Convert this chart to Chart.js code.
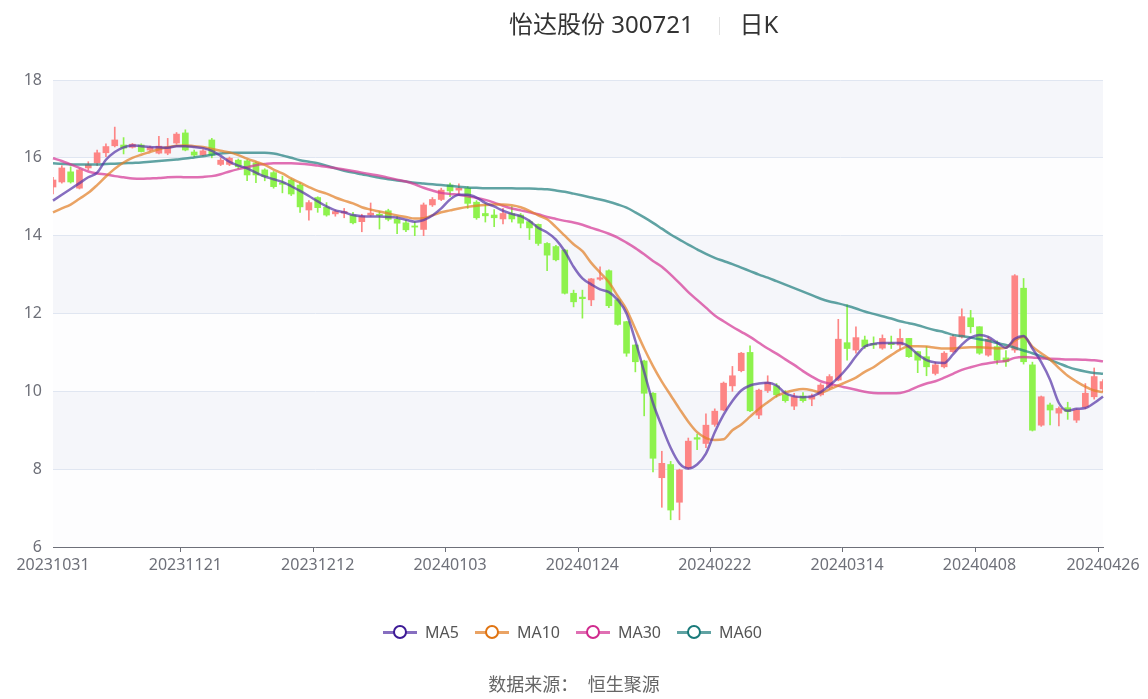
<!DOCTYPE html>
<html>
<head>
<meta charset="utf-8">
<script src="https://cdn.jsdelivr.net/npm/chart.js@4.4.1/dist/chart.umd.min.js"></script>
<style>
  body { margin: 0; background: #fff; }
  #wrap { position: relative; width: 1148px; height: 699px; font-family: "Noto Sans", "Noto Sans CJK SC", sans-serif; }
  #kChart { position: absolute; left: 0; top: 0; }
  .title { position: absolute; top: 5px; left: 509px; white-space: nowrap; font-size: 24px; color: #333; }
  .title .sep { display: inline-block; width: 1px; height: 18px; background: #e3e3e3; margin: 0 20px 0 25px; vertical-align: -2px; }
  .legend { position: absolute; top: 620px; left: 383px; display: flex; font-size: 16px; color: #555; }
  .legend .item { display: flex; align-items: center; margin-right: 16px; }
  .legend .icon { position: relative; width: 34px; height: 24px; margin-right: 8px; }
  .legend .icon .ln { position: absolute; left: 0; top: 11px; width: 34px; height: 2.5px; }
  .legend .icon .dot { position: absolute; left: 10px; top: 5px; width: 10px; height: 10px; border-radius: 50%; background: #fff; border: 2.5px solid; }
  .source { position: absolute; top: 670px; left: 0; width: 1148px; text-align: center; font-size: 18px; color: #666; }
</style>
</head>
<body>
<div id="wrap">
  <canvas id="kChart" width="1148" height="699"></canvas>
  <div class="title">怡达股份 300721<span class="sep"></span>日K</div>
  <div class="legend" id="legend"></div>
  <div class="source">数据来源：&nbsp;&nbsp;恒生聚源</div>
</div>
<script>
// trading days
var dates = [
  '20231031',
  '20231101','20231102','20231103','20231106','20231107','20231108','20231109','20231110','20231113','20231114','20231115',
  '20231116','20231117','20231120','20231121','20231122','20231123','20231124','20231127','20231128','20231129','20231130',
  '20231201','20231204','20231205','20231206','20231207','20231208','20231211','20231212','20231213','20231214','20231215',
  '20231218','20231219','20231220','20231221','20231222','20231225','20231226','20231227','20231228','20231229',
  '20240102','20240103','20240104','20240105','20240108','20240109','20240110','20240111','20240112','20240115','20240116',
  '20240117','20240118','20240119','20240122','20240123','20240124','20240125','20240126','20240129','20240130','20240131',
  '20240201','20240202','20240205','20240206','20240207','20240208','20240219','20240220','20240221','20240222','20240223',
  '20240226','20240227','20240228','20240229','20240301','20240304','20240305','20240306','20240307','20240308','20240311',
  '20240312','20240313','20240314','20240315','20240318','20240319','20240320','20240321','20240322','20240325','20240326',
  '20240327','20240328','20240329','20240401','20240402','20240403','20240408','20240409','20240410','20240411','20240412',
  '20240415','20240416','20240417','20240418','20240419','20240422','20240423','20240424','20240425','20240426'
];
var shownTicks = ['20231031','20231121','20231212','20240103','20240124','20240222','20240314','20240408','20240426'];

var openV = [15.25,15.38,15.64,15.22,15.74,15.87,16.13,16.31,16.33,16.27,16.33,16.2,16.12,16.12,16.38,16.64,16.15,16.07,16.46,15.83,
  15.83,15.94,15.92,15.87,15.69,15.62,15.36,15.43,15.3,14.66,14.98,14.73,14.56,14.58,14.53,14.36,14.53,14.55,14.64,14.42,
  14.33,14.25,14.16,14.79,14.93,15.3,15.17,15.22,14.86,14.57,14.53,14.43,14.57,14.53,14.36,14.29,13.8,13.72,13.63,12.52,
  12.42,12.35,12.88,13.1,12.35,11.79,11.19,10.78,9.95,7.78,8.12,7.15,8.04,8.81,8.66,9.15,9.52,10.14,10.53,11.0,
  9.39,10.02,10.14,9.91,9.62,9.88,9.8,9.91,10.1,10.29,11.25,11.06,11.32,11.23,11.11,11.24,11.19,11.36,11.02,10.89,
  10.46,10.63,11.02,11.4,11.89,11.66,10.93,11.15,10.86,11.06,12.65,10.68,9.13,9.65,9.44,9.58,9.26,9.6,9.86,10.06];
var closeV = [15.43,15.74,15.38,15.69,15.82,16.13,16.29,16.46,16.25,16.35,16.16,16.27,16.3,16.28,16.61,16.2,16.07,16.18,16.07,15.94,
  15.99,15.77,15.56,15.56,15.52,15.26,15.32,15.07,14.74,14.85,14.72,14.53,14.62,14.62,14.33,14.5,14.58,14.52,14.42,14.32,
  14.15,14.22,14.79,14.93,15.17,15.15,15.22,14.83,14.46,14.51,14.46,14.57,14.43,14.32,14.2,13.8,13.5,13.38,12.52,12.3,
  12.38,12.89,12.92,12.2,11.72,10.98,10.76,9.95,8.28,8.15,6.95,7.98,8.72,8.77,9.13,9.49,10.21,10.4,10.98,9.5,
  10.03,10.23,9.91,9.76,9.86,9.76,9.88,10.16,10.38,11.34,11.1,11.38,11.15,11.19,11.36,11.2,11.36,10.89,10.8,10.63,
  10.68,10.98,11.4,11.92,11.66,10.98,11.34,10.8,10.76,12.97,10.76,9.0,9.86,9.52,9.56,9.48,9.52,9.95,10.38,10.25];
var lowV = [15.07,15.35,15.35,15.2,15.69,15.8,16.03,16.28,16.1,16.25,16.15,16.17,16.1,16.08,16.35,16.18,16.03,16.05,16.0,15.8,
  15.8,15.72,15.41,15.36,15.41,15.22,15.1,15.03,14.6,14.4,14.6,14.5,14.5,14.46,14.3,14.1,14.5,14.17,14.38,14.05,
  14.1,14.0,14.0,14.75,14.9,15.0,15.07,14.7,14.42,14.35,14.23,14.3,14.35,14.2,13.9,13.75,13.1,13.35,12.5,12.17,
  11.88,12.2,12.85,12.15,11.7,10.9,10.5,9.37,7.93,7.02,6.7,6.7,8.0,8.5,8.55,9.1,9.5,10.0,10.5,9.48,
  9.3,9.97,9.85,9.72,9.53,9.72,9.63,9.88,10.05,10.27,10.8,10.98,11.1,11.1,11.08,11.1,11.08,10.87,10.48,10.4,
  10.42,10.6,11.0,11.37,11.5,10.95,10.9,10.7,10.64,11.0,10.7,8.98,9.1,9.14,9.11,9.28,9.2,9.55,9.8,10.0];
var highV = [15.5,15.8,15.77,15.72,15.9,16.2,16.36,16.79,16.52,16.37,16.36,16.3,16.55,16.5,16.65,16.72,16.2,16.21,16.5,16.0,
  16.02,15.97,15.95,15.9,15.72,15.65,15.53,15.46,15.36,14.9,15.0,14.85,14.66,14.7,14.6,14.55,14.84,14.62,14.68,14.5,
  14.4,14.36,14.84,14.98,15.22,15.35,15.33,15.26,14.9,14.83,14.67,14.7,14.75,14.57,14.4,14.3,13.82,13.75,13.65,12.6,
  12.6,12.9,13.2,13.12,12.38,11.8,11.2,10.8,9.97,8.46,8.2,8.0,8.8,8.9,9.42,9.55,10.24,10.64,11.0,11.17,
  10.06,10.4,10.2,10.02,9.95,9.97,9.93,10.2,10.43,11.85,12.22,11.66,11.42,11.4,11.45,11.42,11.6,11.36,11.03,11.15,
  10.75,11.02,11.45,12.12,12.08,11.66,11.4,11.3,11.05,13.0,12.9,10.75,9.88,9.7,9.6,9.72,9.55,10.2,10.6,10.3];

var ma5 = [14.9,15.05,15.2,15.35,15.5,15.62,15.95,16.15,16.27,16.32,16.3,16.28,16.27,16.26,16.3,16.3,16.28,16.25,16.18,16.05,
  15.9,15.8,15.73,15.62,15.52,15.45,15.38,15.27,15.15,15.02,14.88,14.75,14.65,14.6,14.53,14.5,14.49,14.49,14.48,14.46,
  14.41,14.36,14.4,14.52,14.7,14.93,15.05,15.05,14.98,14.84,14.75,14.64,14.56,14.5,14.38,14.2,14.08,13.9,13.6,13.2,
  12.9,12.75,12.62,12.55,12.35,12.0,11.3,10.5,9.7,9.1,8.55,8.15,8.02,8.12,8.4,8.95,9.4,9.75,10.02,10.15,
  10.2,10.22,10.15,9.95,9.87,9.85,9.87,9.98,10.15,10.35,10.6,10.9,11.15,11.22,11.24,11.24,11.24,11.15,10.95,10.8,
  10.74,10.73,10.95,11.2,11.38,11.45,11.4,11.25,11.12,11.35,11.42,11.1,10.75,10.3,9.7,9.5,9.55,9.57,9.7,9.87];
var ma10 = [14.6,14.7,14.8,14.95,15.1,15.3,15.52,15.72,15.88,16.0,16.08,16.15,16.22,16.27,16.31,16.32,16.3,16.28,16.23,16.18,
  16.14,16.07,15.98,15.9,15.82,15.7,15.6,15.47,15.36,15.25,15.15,15.08,14.98,14.9,14.83,14.73,14.67,14.62,14.57,14.52,
  14.48,14.44,14.45,14.52,14.6,14.65,14.7,14.74,14.77,14.79,14.8,14.8,14.78,14.73,14.64,14.52,14.42,14.22,14.0,13.78,
  13.6,13.3,13.05,12.8,12.45,12.1,11.6,11.1,10.65,10.25,9.9,9.55,9.22,8.95,8.8,8.75,8.77,9.0,9.15,9.35,
  9.55,9.72,9.88,9.97,10.03,10.06,10.03,9.97,10.05,10.15,10.25,10.35,10.5,10.62,10.78,10.93,11.07,11.16,11.16,11.15,
  11.12,11.1,11.1,11.12,11.13,11.13,11.12,11.1,11.12,11.3,11.4,11.15,10.98,10.82,10.6,10.4,10.25,10.12,10.02,9.98];
var ma30 = [15.99,15.92,15.83,15.74,15.65,15.6,15.57,15.53,15.5,15.47,15.46,15.47,15.48,15.5,15.51,15.5,15.5,15.51,15.53,15.58,
  15.65,15.71,15.76,15.81,15.84,15.86,15.86,15.86,15.85,15.83,15.8,15.77,15.74,15.7,15.66,15.62,15.58,15.54,15.49,15.44,
  15.39,15.32,15.23,15.16,15.1,15.07,15.05,15.01,14.97,14.92,14.85,14.77,14.7,14.65,14.6,14.55,14.48,14.43,14.38,14.34,
  14.28,14.2,14.13,14.05,13.95,13.82,13.68,13.52,13.35,13.2,13.0,12.78,12.55,12.35,12.15,11.95,11.8,11.66,11.53,11.4,
  11.25,11.1,10.97,10.82,10.68,10.52,10.38,10.26,10.2,10.14,10.09,10.04,9.99,9.96,9.95,9.95,9.96,10.02,10.12,10.2,
  10.26,10.35,10.45,10.55,10.62,10.68,10.72,10.76,10.78,10.86,10.88,10.87,10.85,10.84,10.83,10.82,10.82,10.81,10.8,10.77];
var ma60 = [15.86,15.85,15.83,15.83,15.83,15.83,15.84,15.85,15.86,15.87,15.88,15.9,15.92,15.94,15.96,15.98,16.01,16.04,16.08,16.11,
  16.13,16.13,16.13,16.13,16.13,16.11,16.06,16.0,15.94,15.9,15.86,15.8,15.73,15.67,15.62,15.58,15.53,15.49,15.45,15.42,
  15.39,15.36,15.34,15.32,15.3,15.28,15.26,15.24,15.23,15.22,15.22,15.22,15.22,15.21,15.21,15.2,15.19,15.16,15.13,15.08,
  15.03,14.98,14.93,14.87,14.8,14.72,14.6,14.47,14.33,14.18,14.03,13.9,13.77,13.65,13.53,13.43,13.35,13.27,13.18,13.09,
  13.0,12.92,12.83,12.74,12.65,12.56,12.47,12.38,12.31,12.26,12.2,12.13,12.05,11.99,11.93,11.87,11.8,11.75,11.7,11.63,
  11.57,11.52,11.45,11.42,11.38,11.34,11.3,11.24,11.19,11.12,11.05,10.98,10.9,10.81,10.72,10.63,10.56,10.51,10.47,10.45];

var upColor = '#fd8585';
var downColor = '#8ef24d';

var candleColors = closeV.map(function (c, i) { return c >= openV[i] ? upColor : downColor; });
var bodies = openV.map(function (o, i) { return [o, closeV[i]]; });
var wicks = lowV.map(function (l, i) { return [l, highV[i]]; });

var maSeries = [
  { label: 'MA5',  data: ma5,  line: 'rgba(88,54,168,0.72)',  dot: '#3d1a96' },
  { label: 'MA10', data: ma10, line: 'rgba(226,128,40,0.72)', dot: '#e07412' },
  { label: 'MA30', data: ma30, line: 'rgba(212,56,150,0.72)', dot: '#d02a8e' },
  { label: 'MA60', data: ma60, line: 'rgba(34,128,128,0.72)', dot: '#197a7a' }
];

// alternating background bands like the original
var bandPlugin = {
  id: 'bands',
  beforeDraw: function (chart) {
    var a = chart.chartArea, y = chart.scales.y, ctx = chart.ctx;
    var band = 0;
    for (var v = 18; v > 6; v -= 2) {
      var top = y.getPixelForValue(v), bot = y.getPixelForValue(v - 2);
      ctx.fillStyle = (band % 2 === 0) ? '#f5f6fa' : '#fdfdfe';
      ctx.fillRect(a.left, top, a.right - a.left, bot - top);
      band++;
    }
  }
};

var datasets = maSeries.map(function (m) {
  return {
    type: 'line', label: m.label, data: m.data,
    borderColor: m.line, borderWidth: 2.5, pointRadius: 0,
    cubicInterpolationMode: 'monotone', order: 0
  };
});
datasets.push({
  type: 'bar', label: 'body', data: bodies,
  backgroundColor: candleColors, barThickness: 6, minBarLength: 1, grouped: false, order: 1
});
datasets.push({
  type: 'bar', label: 'wick', data: wicks,
  backgroundColor: candleColors, barThickness: 1, grouped: false, order: 2
});

var ctx = document.getElementById('kChart').getContext('2d');
var kChart = new Chart(ctx, {
  data: { labels: dates, datasets: datasets },
  plugins: [bandPlugin],
  options: {
    responsive: false,
    animation: false,
    layout: { padding: { left: 0, top: 80, right: 45, bottom: 112 } },
    plugins: { legend: { display: false }, tooltip: { enabled: false } },
    scales: {
      x: {
        type: 'category',
        offset: false,
        afterFit: function (s) { s.height = 40; },
        border: { color: '#6e7079', width: 1 },
        grid: {
          drawOnChartArea: false, drawTicks: true, tickLength: 5,
          tickColor: function (c) { return shownTicks.indexOf(dates[c.index]) >= 0 ? '#6e7079' : 'rgba(0,0,0,0)'; }
        },
        ticks: {
          autoSkip: false, maxRotation: 0, minRotation: 0, padding: 4,
          color: '#6e7079', font: { family: 'Noto Sans', size: 16 },
          callback: function (v, i) { return shownTicks.indexOf(dates[i]) >= 0 ? dates[i] : ''; }
        }
      },
      y: {
        min: 6, max: 18,
        afterFit: function (s) { s.width = 53; },
        border: { display: false },
        grid: { color: '#e0e6f1', drawTicks: false },
        ticks: { stepSize: 2, padding: 11, color: '#6e7079', font: { family: 'Noto Sans', size: 16 } }
      }
    }
  }
});

// legend built from the MA list
var lg = document.getElementById('legend');
maSeries.forEach(function (m) {
  var it = document.createElement('div');
  it.className = 'item';
  it.innerHTML = '<span class="icon"><span class="ln" style="background:' + m.line + '"></span>' +
    '<span class="dot" style="border-color:' + m.dot + '"></span></span><span>' + m.label + '</span>';
  lg.appendChild(it);
});
</script>
</body>
</html>
